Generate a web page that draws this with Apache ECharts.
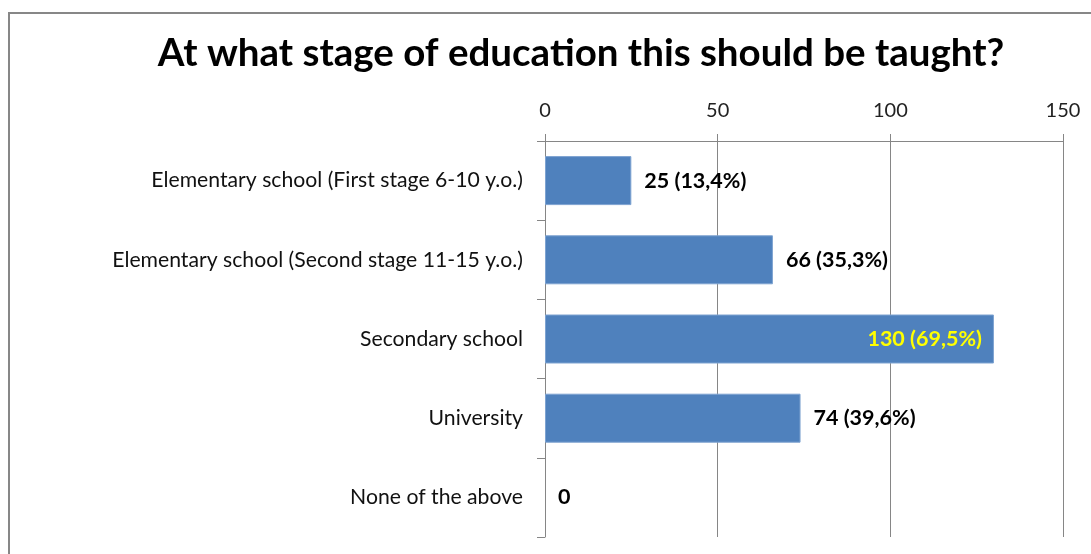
<!DOCTYPE html>
<html lang="en">

<head>
    <meta charset="UTF-8">
    <title>At what stage of education this should be taught?</title>
    <script src="https://cdn.jsdelivr.net/npm/echarts@6/dist/echarts.min.js"></script>
    <style>
        body { margin: 0; background: #fff; }
        #mChart { width: 1091px; height: 554px; }
    </style>
</head>

<body>
    <div id="mChart"></div>

    <script type="text/javascript">
        var categories = [
            'Elementary school (First stage 6-10 y.o.)',
            'Elementary school (Second stage 11-15 y.o.)',
            'Secondary school',
            'University',
            'None of the above'
        ]
        var counts = [25, 66, 130, 74, 0]
        var percents = ['13,4%', '35,3%', '69,5%', '39,6%', '']
        var ticks = [0, 50, 100, 150]

        var font = 'Lato, "Open Sans", sans-serif'

        var barData = counts.map(function (v, i) {
            var item = { value: v }
            if (i === 2) {
                item.label = { position: 'insideRight', color: '#ffff00', distance: 12 }
            }
            if (v === 0) {
                item.itemStyle = { borderWidth: 0 }
            }
            return item
        })

        var mChart = echarts.init(document.getElementById('mChart'))
        mChart.setOption({
            animation: false,
            title: {
                text: 'At what stage of education this should be taught?',
                left: 576,
                textAlign: 'center',
                top: 29,
                textStyle: { fontFamily: font, fontSize: 38.5, fontWeight: 'bold', color: '#000' }
            },
            graphic: [{
                type: 'rect',
                shape: { x: 9, y: 13, width: 1200, height: 700 },
                style: { fill: 'none', stroke: '#878787', lineWidth: 2 }
            }],
            grid: { left: 545, top: 141, width: 518, height: 396 },
            xAxis: {
                type: 'value',
                position: 'top',
                min: ticks[0],
                max: ticks[ticks.length - 1],
                interval: 50,
                axisLine: { show: true, lineStyle: { color: '#868686' } },
                axisTick: { show: true, length: 7, lineStyle: { color: '#868686' } },
                splitLine: { show: true, lineStyle: { color: '#868686' } },
                axisLabel: { fontFamily: font, fontSize: 20, color: '#222', margin: 20 }
            },
            yAxis: {
                type: 'category',
                inverse: true,
                data: categories,
                axisLine: { show: true, lineStyle: { color: '#868686' } },
                axisTick: { show: true, length: 8, alignWithLabel: false, lineStyle: { color: '#868686' } },
                axisLabel: { fontFamily: font, fontSize: 21.2, color: '#111', margin: 22 }
            },
            series: [{
                type: 'bar',
                data: barData,
                barWidth: 49,
                itemStyle: { color: '#4f81bd', borderColor: '#7ea3d1', borderWidth: 1 },
                label: {
                    show: true,
                    position: 'right',
                    distance: 13,
                    fontFamily: font,
                    fontSize: 21.5,
                    fontWeight: 'bold',
                    color: '#000',
                    formatter: function (p) {
                        var pc = percents[p.dataIndex]
                        return pc ? p.value + ' (' + pc + ')' : String(p.value)
                    }
                }
            }]
        })
    </script>
</body>

</html>
